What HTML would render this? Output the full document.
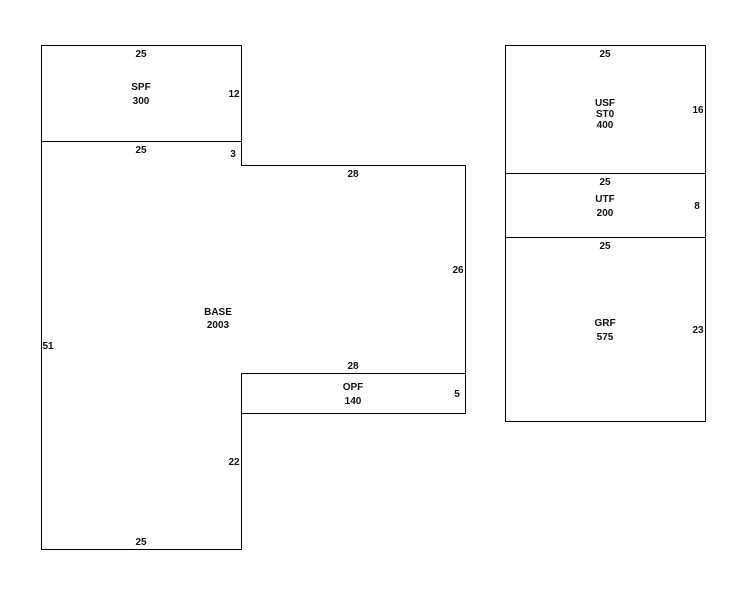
<!DOCTYPE html>
<html><head><meta charset="utf-8"><style>
html,body{margin:0;padding:0;background:#fff;width:746px;height:595px;overflow:hidden}
svg text{font-family:"Liberation Sans",Arial,sans-serif;font-size:10px;font-weight:bold;fill:#111;text-anchor:middle}
</style></head><body>
<svg width="746" height="595" viewBox="0 0 746 595" xmlns="http://www.w3.org/2000/svg">
<g fill="none" stroke="#000" stroke-width="1">
<rect x="41.5" y="45.5" width="200" height="96"/>
<polyline points="41.5,141.5 41.5,549.5 241.5,549.5 241.5,413.5 465.5,413.5 465.5,165.5 241.5,165.5 241.5,141.5"/>
<line x1="241.5" y1="373.5" x2="465.5" y2="373.5"/>
<line x1="241.5" y1="373.5" x2="241.5" y2="413.5"/>
<rect x="505.5" y="45.5" width="200" height="376"/>
<line x1="505.5" y1="173.5" x2="705.5" y2="173.5"/>
<line x1="505.5" y1="237.5" x2="705.5" y2="237.5"/>
</g>
<text x="141" y="57">25</text>
<text x="141" y="90">SPF</text>
<text x="141" y="104">300</text>
<text x="234" y="97">12</text>
<text x="141" y="153">25</text>
<text x="233" y="157">3</text>
<text x="353" y="177">28</text>
<text x="458" y="273">26</text>
<text x="218" y="315">BASE</text>
<text x="218" y="328">2003</text>
<text x="48" y="349">51</text>
<text x="353" y="369">28</text>
<text x="353" y="390">OPF</text>
<text x="353" y="404">140</text>
<text x="457" y="397">5</text>
<text x="234" y="465">22</text>
<text x="141" y="545">25</text>
<text x="605" y="57">25</text>
<text x="605" y="106">USF</text>
<text x="605" y="117">ST0</text>
<text x="605" y="128">400</text>
<text x="698" y="113">16</text>
<text x="605" y="185">25</text>
<text x="605" y="202">UTF</text>
<text x="605" y="216">200</text>
<text x="697" y="209">8</text>
<text x="605" y="249">25</text>
<text x="605" y="326">GRF</text>
<text x="605" y="340">575</text>
<text x="698" y="333">23</text>
</svg>
</body></html>
